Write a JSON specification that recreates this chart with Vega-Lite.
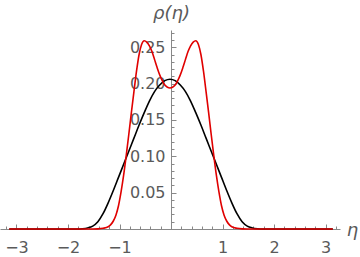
{
  "$schema": "https://vega.github.io/schema/vega-lite/v6.json",
  "autosize": "none",
  "width": 340,
  "height": 199,
  "padding": {"left": 0, "top": 30, "right": 20, "bottom": 28},
  "background": "white",
  "config": {"view": {"stroke": null}},
  "datasets": {
    "black": [
      {"x": -3.14, "y": 0}, {"x": -1.82, "y": 0}, {"x": -1.72, "y": 0.0004}, {"x": -1.62, "y": 0.0015},
      {"x": -1.52, "y": 0.004}, {"x": -1.42, "y": 0.010}, {"x": -1.32, "y": 0.021}, {"x": -1.22, "y": 0.036},
      {"x": -1.12, "y": 0.053}, {"x": -1.02, "y": 0.071}, {"x": -0.92, "y": 0.089}, {"x": -0.82, "y": 0.107},
      {"x": -0.72, "y": 0.125}, {"x": -0.62, "y": 0.143}, {"x": -0.52, "y": 0.160}, {"x": -0.42, "y": 0.176},
      {"x": -0.32, "y": 0.189}, {"x": -0.22, "y": 0.198}, {"x": -0.12, "y": 0.204}, {"x": -0.02, "y": 0.206},
      {"x": 0.08, "y": 0.204}, {"x": 0.18, "y": 0.198}, {"x": 0.28, "y": 0.189}, {"x": 0.38, "y": 0.176},
      {"x": 0.48, "y": 0.160}, {"x": 0.58, "y": 0.143}, {"x": 0.68, "y": 0.125}, {"x": 0.78, "y": 0.107},
      {"x": 0.88, "y": 0.089}, {"x": 0.98, "y": 0.071}, {"x": 1.08, "y": 0.053}, {"x": 1.18, "y": 0.036},
      {"x": 1.28, "y": 0.021}, {"x": 1.38, "y": 0.010}, {"x": 1.48, "y": 0.004}, {"x": 1.58, "y": 0.0015},
      {"x": 1.68, "y": 0.0004}, {"x": 1.78, "y": 0}, {"x": 3.14, "y": 0}
    ],
    "red": [
      {"x": -3.14, "y": 0}, {"x": -1.52, "y": 0}, {"x": -1.42, "y": 0.0002}, {"x": -1.32, "y": 0.001},
      {"x": -1.22, "y": 0.003}, {"x": -1.17, "y": 0.006}, {"x": -1.12, "y": 0.011}, {"x": -1.07, "y": 0.019},
      {"x": -1.02, "y": 0.032}, {"x": -0.97, "y": 0.051}, {"x": -0.92, "y": 0.074}, {"x": -0.87, "y": 0.101},
      {"x": -0.82, "y": 0.130}, {"x": -0.77, "y": 0.160}, {"x": -0.72, "y": 0.189}, {"x": -0.67, "y": 0.217},
      {"x": -0.62, "y": 0.240}, {"x": -0.57, "y": 0.254}, {"x": -0.52, "y": 0.259}, {"x": -0.47, "y": 0.257},
      {"x": -0.42, "y": 0.252}, {"x": -0.37, "y": 0.244}, {"x": -0.32, "y": 0.233}, {"x": -0.27, "y": 0.222},
      {"x": -0.22, "y": 0.212}, {"x": -0.17, "y": 0.204}, {"x": -0.12, "y": 0.198}, {"x": -0.07, "y": 0.195},
      {"x": -0.02, "y": 0.194},
      {"x": 0.03, "y": 0.195}, {"x": 0.08, "y": 0.198}, {"x": 0.13, "y": 0.204}, {"x": 0.18, "y": 0.212},
      {"x": 0.23, "y": 0.222}, {"x": 0.28, "y": 0.233}, {"x": 0.33, "y": 0.244}, {"x": 0.38, "y": 0.252},
      {"x": 0.43, "y": 0.257}, {"x": 0.48, "y": 0.259}, {"x": 0.53, "y": 0.254}, {"x": 0.58, "y": 0.240},
      {"x": 0.63, "y": 0.217}, {"x": 0.68, "y": 0.189}, {"x": 0.73, "y": 0.160}, {"x": 0.78, "y": 0.130},
      {"x": 0.83, "y": 0.101}, {"x": 0.88, "y": 0.074}, {"x": 0.93, "y": 0.051}, {"x": 0.98, "y": 0.032},
      {"x": 1.03, "y": 0.019}, {"x": 1.08, "y": 0.011}, {"x": 1.13, "y": 0.006}, {"x": 1.18, "y": 0.003},
      {"x": 1.28, "y": 0.001}, {"x": 1.38, "y": 0.0002}, {"x": 1.48, "y": 0}, {"x": 3.14, "y": 0}
    ]
  },
  "encoding": {
    "x": {
      "field": "x", "type": "quantitative",
      "scale": {"domain": [-3.32, 3.28], "nice": false, "zero": false},
      "axis": {
        "orient": "bottom",
        "values": [-3.2,-3.0,-2.8,-2.6,-2.4,-2.2,-2.0,-1.8,-1.6,-1.4,-1.2,-1.0,-0.8,-0.6,-0.4,-0.2,0,0.2,0.4,0.6,0.8,1.0,1.2,1.4,1.6,1.8,2.0,2.2,2.4,2.6,2.8,3.0,3.2],
        "labelExpr": "datum.value != 0 && abs(datum.value - round(datum.value)) < 0.001 ? (datum.value < 0 ? '\u2212' + abs(round(datum.value)) : '' + round(datum.value)) : ''",
        "tickSize": {"condition": {"test": "abs(datum.value - round(datum.value)) < 0.001", "value": -5}, "value": -3},
        "labelPadding": 15,
        "labelFont": "DejaVu Sans",
        "labelFontSize": 16,
        "labelColor": "#5a5a5a",
        "labelFlush": false,
        "labelOverlap": false,
        "domainColor": "#888888",
        "tickColor": "#888888",
        "grid": false,
        "title": "\u03b7",
        "titleFont": "DejaVu Sans",
        "titleFontStyle": "italic",
        "titleFontWeight": "normal",
        "titleFontSize": 18,
        "titleColor": "#5a5a5a",
        "titleAlign": "center",
        "titleBaseline": "middle",
        "titleX": 352,
        "titleY": 1
      }
    },
    "y": {
      "field": "y", "type": "quantitative",
      "scale": {"domain": [0, 0.2737], "nice": false, "zero": false},
      "axis": {
        "orient": "left",
        "offset": -171,
        "values": [0.01,0.02,0.03,0.04,0.05,0.06,0.07,0.08,0.09,0.10,0.11,0.12,0.13,0.14,0.15,0.16,0.17,0.18,0.19,0.20,0.21,0.22,0.23,0.24,0.25,0.26,0.27],
        "labelExpr": "abs(datum.value*20 - round(datum.value*20)) < 0.001 ? format(datum.value, '.2f') : ''",
        "tickSize": {"condition": {"test": "abs(datum.value*20 - round(datum.value*20)) < 0.001", "value": -5}, "value": -3},
        "labelPadding": 11,
        "labelFont": "DejaVu Sans",
        "labelFontSize": 16,
        "labelColor": "#5a5a5a",
        "labelBaseline": "middle",
        "labelFlush": false,
        "labelOverlap": false,
        "domainColor": "#888888",
        "tickColor": "#888888",
        "grid": false,
        "title": "\u03c1(\u03b7)",
        "titleFont": "DejaVu Sans",
        "titleFontStyle": "italic",
        "titleFontWeight": "normal",
        "titleFontSize": 18,
        "titleColor": "#5a5a5a",
        "titleAngle": 0,
        "titleAlign": "center",
        "titleBaseline": "middle",
        "titleX": 0,
        "titleY": -17
      }
    }
  },
  "layer": [
    {
      "data": {"name": "black"},
      "mark": {"type": "line", "color": "#000000", "strokeWidth": 1.6, "interpolate": "monotone", "clip": false}
    },
    {
      "data": {"name": "red"},
      "mark": {"type": "line", "color": "#e00000", "strokeWidth": 1.6, "interpolate": "monotone", "clip": false}
    }
  ]
}
